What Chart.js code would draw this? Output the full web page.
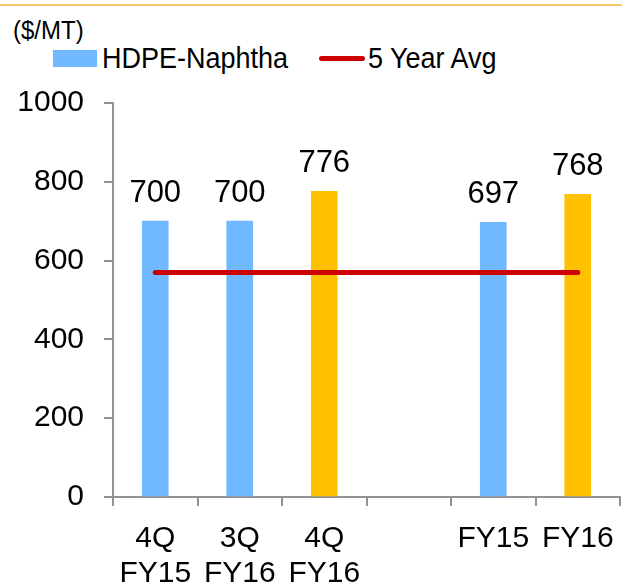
<!DOCTYPE html>
<html>
<head>
<meta charset="utf-8">
<script src="https://cdn.jsdelivr.net/npm/chart.js@4.4.1/dist/chart.umd.min.js"></script>
<style>
  html, body { margin: 0; padding: 0; background: #fff; }
  #wrap { position: relative; width: 622px; height: 587px; overflow: hidden;
          font-family: "Liberation Sans", Arial, sans-serif; color: #000; }
  #topline { position: absolute; left: 0; top: 4px; width: 622px; height: 2px; background: #FFC966; }
  #unit { position: absolute; left: 13px; top: 15px; font-size: 24px; line-height: 30px;
          transform: scaleY(1.08); transform-origin: left center; }
  #legend { position: absolute; left: 53px; top: 42px; font-size: 27px; line-height: 32px; white-space: nowrap; }
  .item { position: absolute; top: 0; }
  .txt { position: absolute; left: 49px; top: 0; transform: scaleY(1.1); transform-origin: left center; }
  .box { position: absolute; left: 0; top: 8px; width: 44px; height: 17px; background: #70B8FF; }
  .ln { position: absolute; left: 0; top: 14px; width: 46px; height: 5px; border-radius: 3px; background: #CC0000; }
  canvas { position: absolute; left: 0; top: 0; }
</style>
</head>
<body>
<div id="wrap">
  <div id="topline"></div>
  <div id="unit">($/MT)</div>
  <div id="legend">
    <div class="item" style="left:0"><span class="box"></span><span class="txt">HDPE-Naphtha</span></div>
    <div class="item" style="left:266px"><span class="ln"></span><span class="txt">5 Year Avg</span></div>
  </div>
  <canvas id="c" width="622" height="587"></canvas>
</div>
<script>
// Categories (the blank slot separates quarters from full years)
const categories = [["4Q", "FY15"], ["3Q", "FY16"], ["4Q", "FY16"], "", "FY15", "FY16"];
// HDPE-Naphtha spread, $/MT
const spreadValues = [700, 700, 776, null, 697, 768];
// Current periods are highlighted in orange
const barColors = ["#70B8FF", "#70B8FF", "#FFC000", "#70B8FF", "#70B8FF", "#FFC000"];
// Five year average spread
const avgValues = [570, 570, 570, 570, 570, 570];
const yTicks = [0, 200, 400, 600, 800, 1000];

const FONT = "'Liberation Sans', Arial, sans-serif";
const AXIS_GREY = "#929292";

const valueLabels = {
  id: "valueLabels",
  afterDatasetsDraw(chart) {
    const ctx = chart.ctx;
    const meta = chart.getDatasetMeta(0);
    ctx.save();
    ctx.font = "31px " + FONT;
    ctx.fillStyle = "#000";
    ctx.textAlign = "center";
    ctx.textBaseline = "alphabetic";
    meta.data.forEach((bar, i) => {
      const v = spreadValues[i];
      if (v == null) return;
      ctx.fillText(String(v), bar.x, bar.y - 19);
    });
    ctx.restore();
  }
};

new Chart(document.getElementById("c"), {
  type: "bar",
  data: {
    labels: categories,
    datasets: [
      {
        type: "bar",
        label: "HDPE-Naphtha",
        data: spreadValues,
        backgroundColor: barColors,
        barThickness: 26,
        order: 2
      },
      {
        type: "line",
        label: "5 Year Avg",
        data: avgValues,
        borderColor: "#CC0000",
        borderWidth: 5,
        borderCapStyle: "round",
        pointRadius: 0,
        fill: false,
        order: 1
      }
    ]
  },
  options: {
    responsive: false,
    animation: false,
    layout: { padding: { top: 103, right: 2, left: 0, bottom: 0 } },
    plugins: { legend: { display: false }, tooltip: { enabled: false } },
    scales: {
      x: {
        grid: { drawOnChartArea: false, drawTicks: true, tickLength: 9, color: AXIS_GREY, lineWidth: 2 },
        border: { color: AXIS_GREY, width: 2 },
        ticks: { color: "#000", font: { size: 30, family: FONT, lineHeight: 1.17 }, padding: 15, maxRotation: 0, autoSkip: false },
        afterFit(scale) {
          scale.height = 90;
          scale.paddingLeft = 0;
          scale.paddingRight = 0;
        }
      },
      y: {
        min: 0,
        max: 1000,
        afterBuildTicks(scale) { scale.ticks = yTicks.map(v => ({ value: v })); },
        grid: { drawOnChartArea: false, drawTicks: true, tickLength: 9, color: AXIS_GREY, lineWidth: 2 },
        border: { color: AXIS_GREY, width: 2 },
        ticks: { color: "#000", font: { size: 30, family: FONT }, padding: 20, callback: v => String(v) },
        afterFit(scale) { scale.width = 113; }
      }
    }
  },
  plugins: [valueLabels]
});
</script>
</body>
</html>
